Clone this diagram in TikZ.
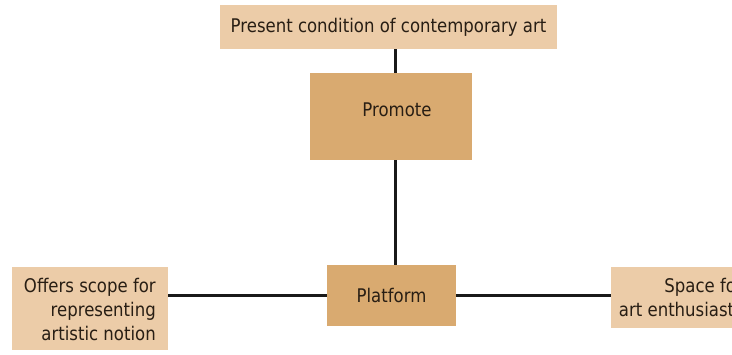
\documentclass[tikz,border=0pt]{standalone}
\usepackage{fontspec}
\setmainfont[FakeStretch=0.88]{DejaVu Sans}
\definecolor{lighttan}{RGB}{236,204,168}
\definecolor{darktan}{RGB}{217,170,112}
\definecolor{txt}{RGB}{40,30,20}
\begin{document}
\begin{tikzpicture}[x=1pt,y=-1pt,
  boxfont/.style={font=\fontsize{18.8}{24}\selectfont},
  lightbox/.style={fill=lighttan, draw=none, inner sep=0pt, text=txt, boxfont},
  darkbox/.style={fill=darktan, draw=none, inner sep=0pt, text=txt, boxfont},
  label/.style={text=txt, boxfont, inner sep=0pt},
  link/.style={line width=3pt, draw=black!90}]
\useasboundingbox[fill=white] (0,0) rectangle (732,354);
\clip (0,0) rectangle (732,354);
\node[lightbox, minimum width=337pt, minimum height=44pt] (top) at (388.5,27) {Present condition of contemporary art};
\node[darkbox, minimum width=162pt, minimum height=87pt] (promote) at (391,116.5) {};
\node[label] (promotetext) at (397,110) {Promote};
\node[darkbox, minimum width=129pt, minimum height=61pt] (platform) at (391.5,295.5) {Platform};
\node[lightbox, minimum width=156pt, minimum height=83pt] (left) at (90,308.5) {};
\node[label, anchor=east, align=right] (lefttext) at (156,309) {Offers scope for\\representing\\artistic notion};
\node[lightbox, minimum width=143pt, minimum height=61pt] (right) at (682.5,297.5) {};
\node[label, anchor=east, align=right] (righttext) at (743,297.5) {Space for\\art enthusiasts};
\draw[link] ([xshift=4pt]promote.north |- top.south) -- ([xshift=4pt]promote.north);
\draw[link] ([xshift=4pt]promote.south) -- ([xshift=4pt]promote.south |- platform.north);
\draw[link] (left.east |- platform.west) -- (platform.west);
\draw[link] (platform.east) -- (right.west |- platform.east);
\end{tikzpicture}
\end{document}
